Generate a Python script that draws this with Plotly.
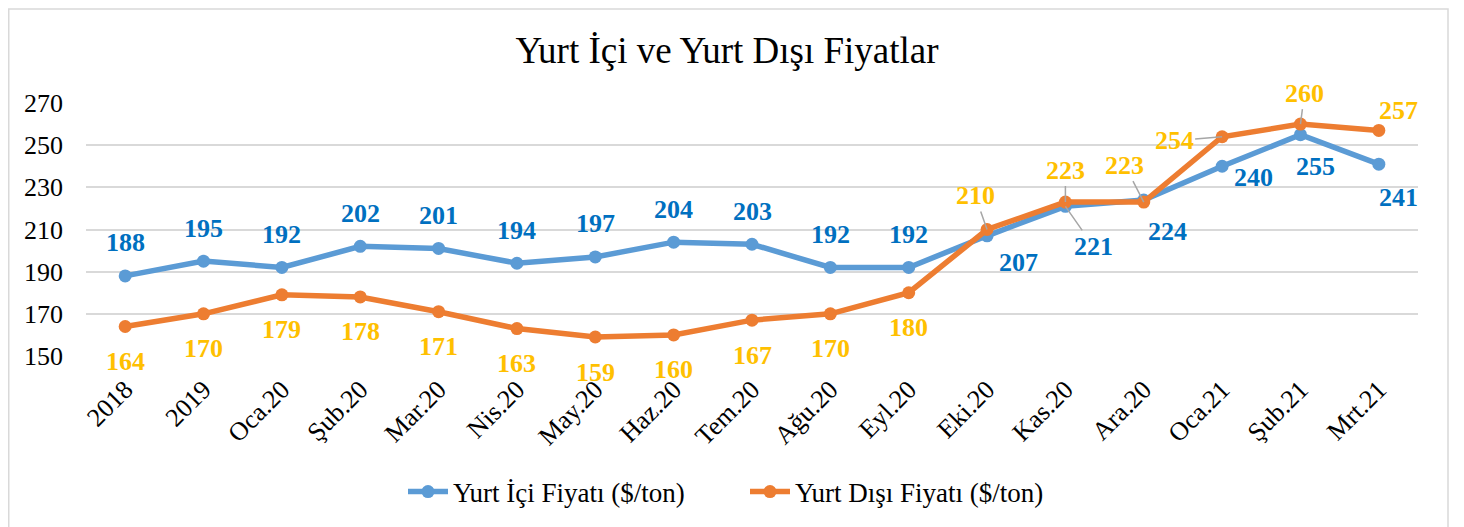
import plotly.graph_objects as go

categories = ["2018", "2019", "Oca.20", "Şub.20", "Mar.20", "Nis.20", "May.20", "Haz.20",
              "Tem.20", "Ağu.20", "Eyl.20", "Eki.20", "Kas.20", "Ara.20", "Oca.21", "Şub.21", "Mrt.21"]
yurt_ici = [188, 195, 192, 202, 201, 194, 197, 204, 203, 192, 192, 207, 221, 224, 240, 255, 241]
yurt_disi = [164, 170, 179, 178, 171, 163, 159, 160, 167, 170, 180, 210, 223, 223, 254, 260, 257]
y_ticks = [150, 170, 190, 210, 230, 250, 270]

# label offsets (pixels) for each data label: (dx, dy) with dy positive = up
ici_off = [(0, 33)] * 11 + [(31, -27), (28, -40), (24, -32), (31, -11), (15, -32), (20, -33)]
disi_off = [(0, -35)] * 11 + [(-12, 34), (0, 32), (-19, 37), (-48, -4), (4, 31), (20, 20)]
ici_leader = [False] * 12 + [True] + [False] * 4
disi_leader = [False] * 11 + [True, True, True, True, True, False]

BLUE_LINE = "#5B9BD5"
ORANGE_LINE = "#ED7D31"
BLUE_TXT = "#0070C0"
ORANGE_TXT = "#FFC000"
SERIF = "Liberation Serif, Times New Roman, serif"

W, H = 1456, 519
L, R, T, B = 78, 46, 95, 170
PW, PH = W - L - R, H - T - B

xs = list(range(len(categories)))

fig = go.Figure()
fig.add_trace(go.Scatter(x=xs, y=yurt_ici, mode="lines+markers", name="Yurt İçi Fiyatı ($/ton)",
                         line=dict(color=BLUE_LINE, width=5.5), marker=dict(size=13, color=BLUE_LINE)))
fig.add_trace(go.Scatter(x=xs, y=yurt_disi, mode="lines+markers", name="Yurt Dışı Fiyatı ($/ton)",
                         line=dict(color=ORANGE_LINE, width=5.5), marker=dict(size=13, color=ORANGE_LINE)))

annotations = []
for vals, offs, leaders, col in [(yurt_ici, ici_off, ici_leader, BLUE_TXT),
                                 (yurt_disi, disi_off, disi_leader, ORANGE_TXT)]:
    for i, (v, (dx, dy), ld) in enumerate(zip(vals, offs, leaders)):
        if ld:
            annotations.append(dict(x=xs[i], y=v, text="<b>%d</b>" % v, showarrow=True,
                                    ax=dx, ay=-dy, arrowhead=0, arrowwidth=1.5, arrowcolor="#A6A6A6",
                                    standoff=0, font=dict(family=SERIF, size=26, color=col)))
        else:
            annotations.append(dict(x=xs[i], y=v, text="<b>%d</b>" % v, showarrow=False,
                                    xshift=dx, yshift=dy, font=dict(family=SERIF, size=26, color=col)))

fig.update_layout(
    width=W, height=H,
    margin=dict(l=L, r=R, t=T, b=B),
    paper_bgcolor="white", plot_bgcolor="white",
    font=dict(family=SERIF, color="black"),
    title=dict(text="Yurt İçi ve Yurt Dışı Fiyatlar", x=719 / W, xref="container", xanchor="center",
               y=1 - 42 / H, yref="container", yanchor="middle",
               font=dict(family=SERIF, size=37, color="black")),
    showlegend=True,
    legend=dict(orientation="h", x=(395 - L) / PW, xanchor="left", y=(PH + T - 484) / PH, yanchor="middle",
                font=dict(family=SERIF, size=27, color="black"), itemwidth=40, bgcolor="rgba(0,0,0,0)",
                entrywidth=287, entrywidthmode="pixels"),
    annotations=annotations,
    shapes=[dict(type="rect", xref="paper", yref="paper",
                 x0=(0.75 - L) / PW, x1=(1440 - L) / PW, y0=-(H + 10 - T - PH) / PH, y1=(T + PH - 0.75) / PH,
                 line=dict(color="#D9D9D9", width=1.5), fillcolor="rgba(0,0,0,0)", layer="below")],
)
fig.update_xaxes(range=[-0.5, len(categories) - 0.5], tickvals=xs, ticktext=categories, tickangle=-45,
                 showgrid=False, showline=False, zeroline=False,
                 ticks="", tickfont=dict(family=SERIF, size=26, color="black"), ticklabelstandoff=12)
fig.update_yaxes(range=[150, 270], tickvals=y_ticks, showgrid=True, gridcolor="#D9D9D9", gridwidth=1.5,
                 zeroline=False, showline=False, ticks="", tickfont=dict(family=SERIF, size=26, color="black"),
                 ticklabelstandoff=22)

fig.write_html("out.html")
